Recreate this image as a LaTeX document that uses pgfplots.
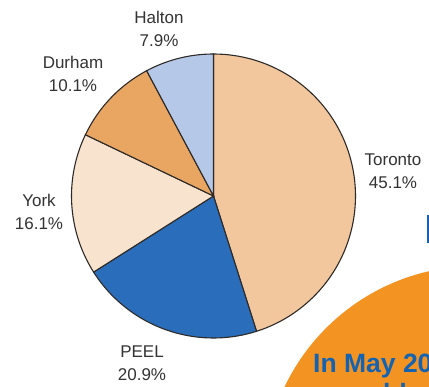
\documentclass[border=0pt]{standalone}
\usepackage{pgfplots}
\pgfplotsset{compat=1.18}
\usepackage{fontspec}
\setmainfont{Liberation Sans}
\definecolor{toronto}{HTML}{F3C79E}
\definecolor{peel}{HTML}{2A6DBA}
\definecolor{york}{HTML}{F8E4CE}
\definecolor{durham}{HTML}{E9A663}
\definecolor{halton}{HTML}{B6C8E8}
\definecolor{edge}{HTML}{2E2A28}
\definecolor{lbl}{HTML}{333333}
\definecolor{orng}{HTML}{F39322}
\definecolor{bluetxt}{HTML}{1463B2}
\begin{document}
\begin{tikzpicture}[x=1bp,y=1bp]
\useasboundingbox (0,0) rectangle (429,387);
\clip (0,0) rectangle (429,387);
\fill[white] (0,0) rectangle (429,387);
% orange decoration circle
\fill[orng] (476,-91) circle[radius=212];
\fill[bluetxt] (427,144) rectangle (430,172);
\begin{axis}[at={(213.5bp,191bp)}, anchor=center, width=284bp, height=284bp,
  scale only axis, xmin=-1, xmax=1, ymin=-1, ymax=1, hide axis, clip=false]
% shares (%): Toronto 45.1, PEEL 20.9, York 16.1, Durham 10.1, Halton 7.9 ; angle = 3.6 * cumulative share, clockwise from top
\addplot[fill=toronto, draw=edge, line width=1.1bp, no markers, domain={0}:{3.6*45.1}, samples=80] ({sin(x)},{cos(x)}) -- (axis cs:0,0) -- cycle;
\addplot[fill=peel, draw=edge, line width=1.1bp, no markers, domain={3.6*45.1}:{3.6*66.0}, samples=40] ({sin(x)},{cos(x)}) -- (axis cs:0,0) -- cycle;
\addplot[fill=york, draw=edge, line width=1.1bp, no markers, domain={3.6*66.0}:{3.6*82.1}, samples=30] ({sin(x)},{cos(x)}) -- (axis cs:0,0) -- cycle;
\addplot[fill=durham, draw=edge, line width=1.1bp, no markers, domain={3.6*82.1}:{3.6*92.2}, samples=20] ({sin(x)},{cos(x)}) -- (axis cs:0,0) -- cycle;
\addplot[fill=halton, draw=edge, line width=1.1bp, no markers, domain={3.6*92.2}:{360}, samples=20] ({sin(x)},{cos(x)}) -- (axis cs:0,0) -- cycle;
\end{axis}
\begin{scope}[every node/.style={align=center, text=lbl, font=\fontsize{17bp}{23bp}\selectfont, inner sep=0pt}]
\node at (159,358) {Halton\\7.9\%};
\node at (73,313) {Durham\\10.1\%};
\node at (39,175) {York\\16.1\%};
\node at (393,215.5) {Toronto\\45.1\%};
\node at (142,23.5) {PEEL\\20.9\%};
\end{scope}
\node[anchor=base west, inner sep=0pt, text=bluetxt, font=\fontsize{26.5bp}{28bp}\selectfont\bfseries] at (313,15) {In May 2009};
\node[anchor=base west, inner sep=0pt, text=bluetxt, font=\fontsize{26.5bp}{28bp}\selectfont\bfseries] at (383,-15) {ld};
\end{tikzpicture}
\end{document}
